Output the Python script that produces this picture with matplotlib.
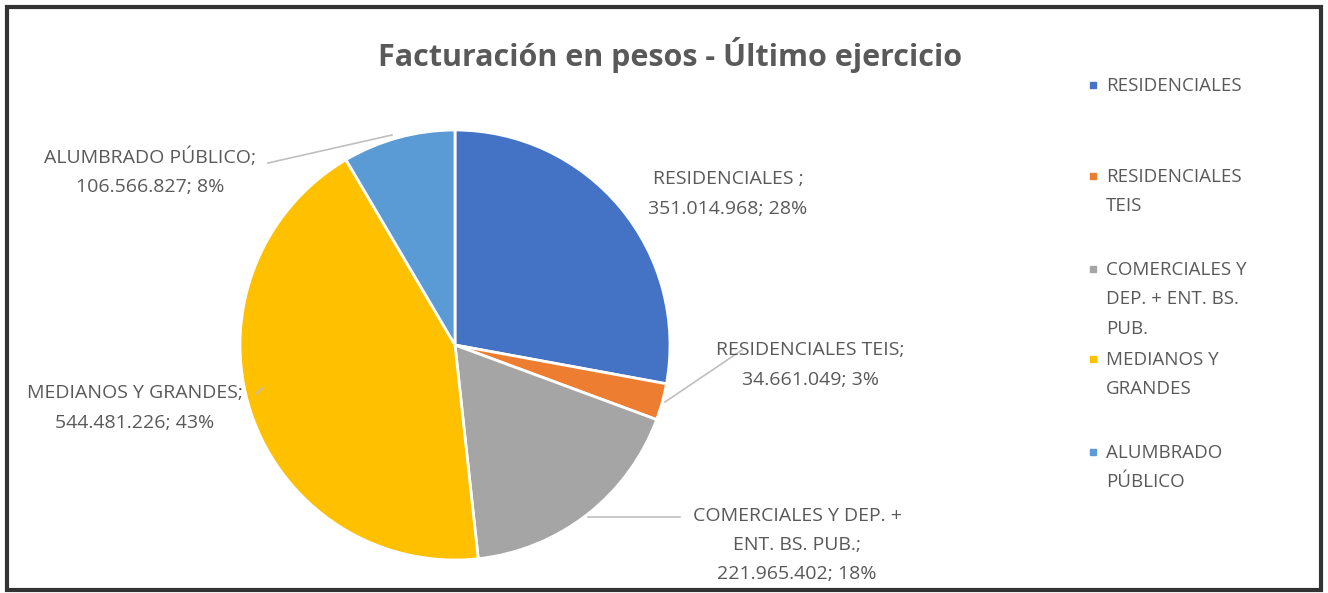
import matplotlib
matplotlib.use("Agg")
import matplotlib.pyplot as plt
from matplotlib.patches import Rectangle

# Datos de facturacion
categorias = ["RESIDENCIALES", "RESIDENCIALES TEIS", "COMERCIALES Y DEP. + ENT. BS. PUB.",
              "MEDIANOS Y GRANDES", "ALUMBRADO PÚBLICO"]
valores = [351014968, 34661049, 221965402, 544481226, 106566827]
porcentajes = ["28%", "3%", "18%", "43%", "8%"]
colores = ["#4472C4", "#ED7D31", "#A5A5A5", "#FFC000", "#5B9BD5"]
leyenda = ["RESIDENCIALES", "RESIDENCIALES\nTEIS", "COMERCIALES Y\nDEP. + ENT. BS.\nPUB.",
           "MEDIANOS Y\nGRANDES", "ALUMBRADO\nPÚBLICO"]

W, H = 1328, 593
fig = plt.figure(figsize=(W / 100, H / 100), dpi=100)
plt.rcParams['font.family'] = ['Open Sans', 'DejaVu Sans']
txt = "#595959"

# pie centre / radius in pixels
cx, cy, r = 455, 345, 215
ax = fig.add_axes([(cx - r) / W, (H - cy - r) / H, 2 * r / W, 2 * r / H])
ax.pie(valores, colors=colores, startangle=90, counterclock=False,
       wedgeprops=dict(edgecolor="white", linewidth=2), radius=1)
ax.set_xlim(-1, 1)
ax.set_ylim(-1, 1)
ax.set_aspect("equal")
ax.axis("off")

def fpx(x, y):
    return x / W, 1 - y / H

def fmt(v):
    return f"{v:,}".replace(",", ".")

# etiquetas de datos (posicion en pixeles, linea guia)
etiquetas = [
    (f"RESIDENCIALES ;\n{fmt(valores[0])}; {porcentajes[0]}", (728, 194), None),
    (f"RESIDENCIALES TEIS;\n{fmt(valores[1])}; {porcentajes[1]}", (810, 365), [(742, 350), (665, 402)]),
    (f"COMERCIALES Y DEP. +\nENT. BS. PUB.;\n{fmt(valores[2])}; {porcentajes[2]}", (797, 545),
     [(680, 517), (588, 517)]),
    (f"MEDIANOS Y GRANDES;\n{fmt(valores[3])}; {porcentajes[3]}", (135, 408), [(256, 394), (262, 388)]),
    (f"ALUMBRADO PÚBLICO;\n{fmt(valores[4])}; {porcentajes[4]}", (150, 172), [(268, 163), (392, 135)]),
]
for texto, (px, py), guia in etiquetas:
    fig.text(*fpx(px, py), texto, ha="center", va="center", fontsize=14,
             color=txt, linespacing=1.8)
    if guia:
        (x0, y0), (x1, y1) = guia
        fig.add_artist(plt.Line2D([x0 / W, x1 / W], [1 - y0 / H, 1 - y1 / H],
                                  color="#BFBFBF", linewidth=1.2))

fig.text(*fpx(670, 55), "Facturación en pesos - Último ejercicio", ha="center", va="center",
         fontsize=22, fontweight="bold", color=txt)

# leyenda manual
tops = [85, 176, 269, 359, 452]
for lab, col, ty in zip(leyenda, colores, tops):
    fig.add_artist(Rectangle(fpx(1090, ty + 3), 6 / W, 6 / H, color=col))
    fig.text(*fpx(1106, ty - 8), lab, ha="left", va="top", fontsize=13.5,
             color=txt, linespacing=1.82)

# marco
fig.add_artist(Rectangle((7 / W, 3 / H), (W - 14) / W, (H - 10) / H, fill=False,
                         edgecolor="#333333", linewidth=3))

fig.savefig("out.png", dpi=100)
